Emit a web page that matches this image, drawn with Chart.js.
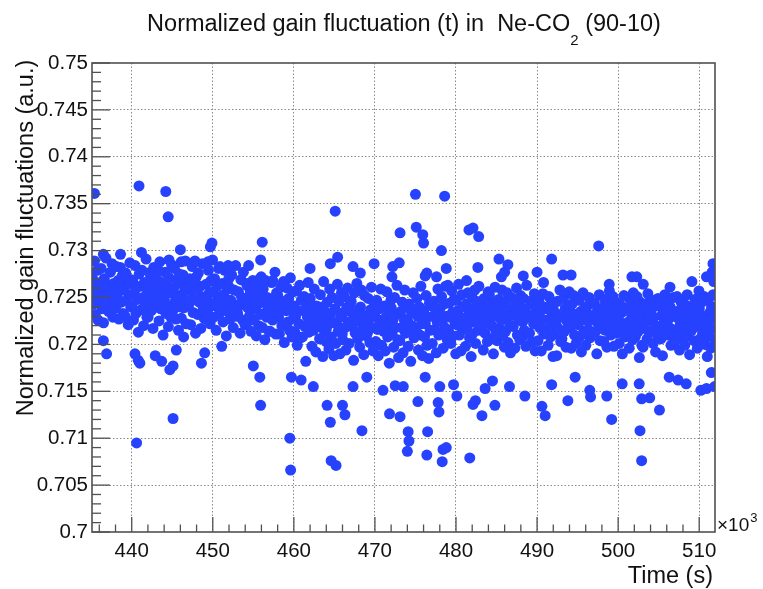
<!DOCTYPE html>
<html>
<head>
<meta charset="utf-8">
<script src="https://cdn.jsdelivr.net/npm/chart.js@4/dist/chart.umd.min.js"></script>
<style>
html,body{margin:0;padding:0;background:#fff;}
canvas{display:block;}
</style>
</head>
<body>
<canvas id="c" width="763" height="589"></canvas>
<script>
// ---- texts ----
const titleMain = 'Normalized gain fluctuation (t) in  Ne-CO';
const titleSub = '2';
const titleEnd = ' (90-10)';
const xTitle = 'Time (s)';
const yTitle = 'Normalized gain fluctuations (a.u.)';
const xExpBase = '\u00d710';
const xExpPow = '3';

// ---- axis ranges (x in units of 10^3 s) ----
const xRange = [435.1, 511.95];
const yRange = [0.70, 0.75];

// ---- data: time (10^3 s), main band ----
const times = [
435.15,435.24,435.32,435.41,435.49,435.58,435.66,435.75,435.83,435.92,
436.02,436.12,436.22,436.32,436.42,436.52,436.62,436.72,436.82,436.92,
437.07,437.17,437.27,437.37,437.47,437.57,437.67,437.77,437.87,437.97,
438.02,438.12,438.22,438.32,438.42,438.52,438.62,438.72,438.82,438.92,
439.07,439.17,439.27,439.37,439.47,439.57,439.67,439.77,439.87,439.97,
440.02,440.12,440.22,440.32,440.42,440.52,440.62,440.72,440.82,440.92,
441.07,441.17,441.27,441.37,441.47,441.57,441.67,441.77,441.87,441.97,
442.02,442.12,442.22,442.32,442.42,442.52,442.62,442.72,442.82,442.92,
443.07,443.17,443.27,443.37,443.47,443.57,443.67,443.77,443.87,443.97,
444.02,444.12,444.22,444.32,444.42,444.52,444.62,444.72,444.82,444.92,
445.07,445.17,445.27,445.37,445.47,445.57,445.67,445.77,445.87,445.97,
446.02,446.12,446.22,446.32,446.42,446.52,446.62,446.72,446.82,446.92,
447.07,447.17,447.27,447.37,447.47,447.57,447.67,447.77,447.87,447.97,
448.02,448.12,448.22,448.32,448.42,448.52,448.62,448.72,448.82,448.92,
449.07,449.17,449.27,449.37,449.47,449.57,449.67,449.77,449.87,449.97,
450.02,450.12,450.22,450.32,450.42,450.52,450.62,450.72,450.82,450.92,
451.07,451.17,451.27,451.37,451.47,451.57,451.67,451.77,451.87,451.97,
452.02,452.12,452.22,452.32,452.42,452.52,452.62,452.72,452.82,452.92,
453.07,453.17,453.27,453.37,453.47,453.57,453.67,453.77,453.87,453.97,
454.02,454.12,454.22,454.32,454.42,454.52,454.62,454.72,454.82,454.92,
455.07,455.17,455.27,455.37,455.47,455.57,455.67,455.77,455.87,455.97,
456.02,456.12,456.22,456.32,456.42,456.52,456.62,456.72,456.82,456.92,
457.07,457.17,457.27,457.37,457.47,457.57,457.67,457.77,457.87,457.97,
458.02,458.12,458.22,458.32,458.42,458.52,458.62,458.72,458.82,458.92,
459.07,459.17,459.27,459.37,459.47,459.57,459.67,459.77,459.87,459.97,
460.02,460.12,460.22,460.32,460.42,460.52,460.62,460.72,460.82,460.92,
461.07,461.17,461.27,461.37,461.47,461.57,461.67,461.77,461.87,461.97,
462.02,462.12,462.22,462.32,462.42,462.52,462.62,462.72,462.82,462.92,
463.07,463.17,463.27,463.37,463.47,463.57,463.67,463.77,463.87,463.97,
464.02,464.12,464.22,464.32,464.42,464.52,464.62,464.72,464.82,464.92,
465.07,465.17,465.27,465.37,465.47,465.57,465.67,465.77,465.87,465.97,
466.02,466.12,466.22,466.32,466.42,466.52,466.62,466.72,466.82,466.92,
467.07,467.17,467.27,467.37,467.47,467.57,467.67,467.77,467.87,467.97,
468.02,468.12,468.22,468.32,468.42,468.52,468.62,468.72,468.82,468.92,
469.07,469.17,469.27,469.37,469.47,469.57,469.67,469.77,469.87,469.97,
470.02,470.12,470.22,470.32,470.42,470.52,470.62,470.72,470.82,470.92,
471.07,471.17,471.27,471.37,471.47,471.57,471.67,471.77,471.87,471.97,
472.02,472.12,472.22,472.32,472.42,472.52,472.62,472.72,472.82,472.92,
473.07,473.17,473.27,473.37,473.47,473.57,473.67,473.77,473.87,473.97,
474.02,474.12,474.22,474.32,474.42,474.52,474.62,474.72,474.82,474.92,
475.07,475.17,475.27,475.37,475.47,475.57,475.67,475.77,475.87,475.97,
476.02,476.12,476.22,476.32,476.42,476.52,476.62,476.72,476.82,476.92,
477.07,477.17,477.27,477.37,477.47,477.57,477.67,477.77,477.87,477.97,
478.02,478.12,478.22,478.32,478.42,478.52,478.62,478.72,478.82,478.92,
479.07,479.17,479.27,479.37,479.47,479.57,479.67,479.77,479.87,479.97,
480.02,480.12,480.22,480.32,480.42,480.52,480.62,480.72,480.82,480.92,
481.07,481.17,481.27,481.37,481.47,481.57,481.67,481.77,481.87,481.97,
482.02,482.12,482.22,482.32,482.42,482.52,482.62,482.72,482.82,482.92,
483.07,483.17,483.27,483.37,483.47,483.57,483.67,483.77,483.87,483.97,
484.02,484.12,484.22,484.32,484.42,484.52,484.62,484.72,484.82,484.92,
485.07,485.17,485.27,485.37,485.47,485.57,485.67,485.77,485.87,485.97,
486.02,486.12,486.22,486.32,486.42,486.52,486.62,486.72,486.82,486.92,
487.07,487.17,487.27,487.37,487.47,487.57,487.67,487.77,487.87,487.97,
488.02,488.12,488.22,488.32,488.42,488.52,488.62,488.72,488.82,488.92,
489.07,489.17,489.27,489.37,489.47,489.57,489.67,489.77,489.87,489.97,
490.02,490.12,490.22,490.32,490.42,490.52,490.62,490.72,490.82,490.92,
491.07,491.17,491.27,491.37,491.47,491.57,491.67,491.77,491.87,491.97,
492.02,492.12,492.22,492.32,492.42,492.52,492.62,492.72,492.82,492.92,
493.07,493.17,493.27,493.37,493.47,493.57,493.67,493.77,493.87,493.97,
494.02,494.12,494.22,494.32,494.42,494.52,494.62,494.72,494.82,494.92,
495.07,495.17,495.27,495.37,495.47,495.57,495.67,495.77,495.87,495.97,
496.02,496.12,496.22,496.32,496.42,496.52,496.62,496.72,496.82,496.92,
497.07,497.17,497.27,497.37,497.47,497.57,497.67,497.77,497.87,497.97,
498.02,498.12,498.22,498.32,498.42,498.52,498.62,498.72,498.82,498.92,
499.07,499.17,499.27,499.37,499.47,499.57,499.67,499.77,499.87,499.97,
500.02,500.12,500.22,500.32,500.42,500.52,500.62,500.72,500.82,500.92,
501.07,501.17,501.27,501.37,501.47,501.57,501.67,501.77,501.87,501.97,
502.02,502.12,502.22,502.32,502.42,502.52,502.62,502.72,502.82,502.92,
503.07,503.17,503.27,503.37,503.47,503.57,503.67,503.77,503.87,503.97,
504.02,504.12,504.22,504.32,504.42,504.52,504.62,504.72,504.82,504.92,
505.07,505.17,505.27,505.37,505.47,505.57,505.67,505.77,505.87,505.97,
506.02,506.12,506.22,506.32,506.42,506.52,506.62,506.72,506.82,506.92,
507.07,507.17,507.27,507.37,507.47,507.57,507.67,507.77,507.87,507.97,
508.02,508.12,508.22,508.32,508.42,508.52,508.62,508.72,508.82,508.92,
509.07,509.17,509.27,509.37,509.47,509.57,509.67,509.77,509.87,509.97,
510.02,510.12,510.22,510.32,510.42,510.52,510.62,510.72,510.82,510.92,
511.02,511.12,511.22,511.32,511.42,511.52,511.62,511.72,511.82,511.92
];

// ---- data: normalized gain, main band ----
const gains = [
0.7271,0.7243,0.7258,0.7289,0.7232,0.7262,0.7249,0.7279,0.7226,0.7254,
0.7247,0.7266,0.7281,0.7238,0.7259,0.7223,0.7270,0.7252,0.7292,0.7241,
0.7262,0.7235,0.7255,0.7277,0.7248,0.7286,0.7229,0.7265,0.7244,0.7258,
0.7239,0.7283,0.7251,0.7268,0.7227,0.7260,0.7296,0.7245,0.7273,0.7233,
0.7258,0.7230,0.7276,0.7247,0.7264,0.7221,0.7252,0.7287,0.7240,0.7269,
0.7241,0.7268,0.7226,0.7255,0.7284,0.7233,0.7261,0.7248,0.7213,0.7275,
0.7262,0.7237,0.7279,0.7250,0.7220,0.7266,0.7243,0.7291,0.7229,0.7256,
0.7229,0.7258,0.7245,0.7273,0.7236,0.7264,0.7217,0.7282,0.7251,0.7240,
0.7270,0.7244,0.7259,0.7225,0.7288,0.7238,0.7253,0.7266,0.7210,0.7247,
0.7248,0.7277,0.7233,0.7262,0.7241,0.7219,0.7271,0.7255,0.7229,0.7285,
0.7236,0.7260,0.7281,0.7246,0.7227,0.7268,0.7252,0.7215,0.7275,0.7240,
0.7265,0.7228,0.7251,0.7274,0.7239,0.7257,0.7289,0.7222,0.7246,0.7262,
0.7243,0.7270,0.7221,0.7256,0.7283,0.7234,0.7263,0.7248,0.7212,0.7272,
0.7259,0.7232,0.7276,0.7245,0.7262,0.7217,0.7251,0.7286,0.7238,0.7228,
0.7227,0.7264,0.7248,0.7237,0.7279,0.7255,0.7222,0.7268,0.7243,0.7290,
0.7256,0.7229,0.7270,0.7241,0.7215,0.7262,0.7248,0.7281,0.7233,0.7251,
0.7238,0.7265,0.7224,0.7253,0.7279,0.7244,0.7209,0.7259,0.7235,0.7270,
0.7261,0.7227,0.7247,0.7274,0.7236,0.7218,0.7258,0.7242,0.7284,0.7230,
0.7233,0.7256,0.7241,0.7212,0.7269,0.7250,0.7226,0.7277,0.7245,0.7221,
0.7249,0.7221,0.7263,0.7239,0.7284,0.7230,0.7257,0.7214,0.7247,0.7268,
0.7226,0.7251,0.7238,0.7209,0.7264,0.7243,0.7220,0.7256,0.7232,0.7272,
0.7245,0.7218,0.7259,0.7233,0.7205,0.7268,0.7229,0.7250,0.7240,0.7214,
0.7214,0.7240,0.7266,0.7226,0.7249,0.7235,0.7277,0.7211,0.7255,0.7231,
0.7252,0.7229,0.7211,0.7244,0.7261,0.7220,0.7237,0.7267,0.7202,0.7246,
0.7236,0.7260,0.7224,0.7249,0.7215,0.7271,0.7239,0.7208,0.7256,0.7228,
0.7241,0.7213,0.7230,0.7257,0.7199,0.7236,0.7222,0.7263,0.7207,0.7247,
0.7208,0.7236,0.7251,0.7219,0.7182,0.7244,0.7229,0.7266,0.7213,0.7234,
0.7249,0.7224,0.7198,0.7238,0.7215,0.7259,0.7226,0.7192,0.7241,0.7219,
0.7230,0.7206,0.7253,0.7221,0.7240,0.7187,0.7267,0.7214,0.7235,0.7203,
0.7217,0.7245,0.7226,0.7195,0.7259,0.7232,0.7208,0.7250,0.7223,0.7188,
0.7238,0.7201,0.7222,0.7264,0.7214,0.7246,0.7190,0.7229,0.7255,0.7211,
0.7205,0.7234,0.7251,0.7218,0.7194,0.7239,0.7260,0.7224,0.7201,0.7243,
0.7246,0.7219,0.7233,0.7183,0.7255,0.7212,0.7228,0.7265,0.7206,0.7237,
0.7225,0.7197,0.7240,0.7258,0.7216,0.7231,0.7189,0.7252,0.7221,0.7209,
0.7212,0.7249,0.7227,0.7202,0.7237,0.7261,0.7218,0.7193,0.7245,0.7230,
0.7230,0.7203,0.7247,0.7216,0.7188,0.7238,0.7222,0.7259,0.7199,0.7226,
0.7214,0.7241,0.7193,0.7229,0.7256,0.7208,0.7235,0.7180,0.7220,0.7247,
0.7239,0.7211,0.7226,0.7197,0.7250,0.7218,0.7232,0.7263,0.7205,0.7186,
0.7204,0.7235,0.7218,0.7245,0.7191,0.7227,0.7258,0.7212,0.7240,0.7223,
0.7226,0.7198,0.7243,0.7214,0.7182,0.7234,0.7220,0.7255,0.7207,0.7237,
0.7217,0.7249,0.7230,0.7194,0.7240,0.7210,0.7262,0.7222,0.7188,0.7232,
0.7236,0.7208,0.7222,0.7252,0.7199,0.7229,0.7185,0.7244,0.7215,0.7241,
0.7201,0.7230,0.7246,0.7216,0.7238,0.7191,0.7224,0.7259,0.7210,0.7227,
0.7238,0.7212,0.7251,0.7225,0.7196,0.7243,0.7218,0.7262,0.7230,0.7205,
0.7215,0.7244,0.7229,0.7201,0.7257,0.7234,0.7209,0.7248,0.7222,0.7190,
0.7247,0.7221,0.7236,0.7264,0.7210,0.7229,0.7193,0.7253,0.7240,0.7216,
0.7226,0.7198,0.7243,0.7218,0.7255,0.7232,0.7207,0.7238,0.7187,0.7250,
0.7211,0.7237,0.7224,0.7258,0.7201,0.7246,0.7227,0.7215,0.7262,0.7233,
0.7242,0.7219,0.7232,0.7194,0.7249,0.7212,0.7239,0.7225,0.7203,0.7256,
0.7228,0.7253,0.7206,0.7235,0.7220,0.7244,0.7190,0.7230,0.7261,0.7214,
0.7204,0.7233,0.7248,0.7217,0.7239,0.7226,0.7258,0.7209,0.7236,0.7197,
0.7245,0.7214,0.7229,0.7255,0.7202,0.7236,0.7221,0.7191,0.7250,0.7231,
0.7219,0.7240,0.7196,0.7231,0.7260,0.7210,0.7244,0.7227,0.7205,0.7252,
0.7235,0.7207,0.7224,0.7249,0.7215,0.7238,0.7198,0.7263,0.7229,0.7212,
0.7212,0.7246,0.7231,0.7203,0.7243,0.7222,0.7254,0.7193,0.7237,0.7226,
0.7230,0.7204,0.7246,0.7218,0.7236,0.7193,0.7227,0.7254,0.7211,0.7240,
0.7215,0.7238,0.7226,0.7199,0.7251,0.7221,0.7208,0.7244,0.7232,0.7187,
0.7242,0.7211,0.7234,0.7222,0.7188,0.7246,0.7217,0.7230,0.7258,0.7203,
0.7206,0.7229,0.7249,0.7214,0.7238,0.7197,0.7225,0.7241,0.7219,0.7256,
0.7236,0.7218,0.7196,0.7243,0.7227,0.7252,0.7210,0.7232,0.7201,0.7223,
0.7221,0.7247,0.7208,0.7235,0.7192,0.7229,0.7255,0.7214,0.7239,0.7226,
0.7199,0.7233,0.7241,0.7216,0.7250,0.7207,0.7226,0.7244,0.7212,0.7231,
0.7244,0.7213,0.7228,0.7190,0.7237,0.7221,0.7253,0.7204,0.7233,0.7217,
0.7225,0.7239,0.7203,0.7248,0.7215,0.7232,0.7197,0.7242,0.7220,0.7257,
0.7210,0.7236,0.7227,0.7251,0.7198,0.7218,0.7245,0.7212,0.7234,0.7223,
0.7228,0.7201,0.7243,0.7215,0.7234,0.7190,0.7222,0.7252,0.7208,0.7238,
0.7212,0.7239,0.7224,0.7196,0.7248,0.7218,0.7231,0.7205,0.7255,0.7226,
0.7240,0.7208,0.7229,0.7251,0.7213,0.7236,0.7186,0.7245,0.7221,0.7199,
0.7197,0.7232,0.7217,0.7243,0.7225,0.7206,0.7254,0.7214,0.7237,0.7228,
0.7235,0.7214,0.7247,0.7201,0.7229,0.7220,0.7192,0.7241,0.7210,0.7249,
0.7219,0.7243,0.7206,0.7231,0.7188,0.7237,0.7225,0.7253,0.7213,0.7230,
0.7246,0.7210,0.7227,0.7218,0.7240,0.7199,0.7233,0.7216,0.7250,0.7205,
0.7204,0.7229,0.7251,0.7213,0.7236,0.7194,0.7222,0.7245,0.7208,0.7234,
0.7232,0.7217,0.7199,0.7242,0.7224,0.7253,0.7209,0.7230,0.7189,0.7238,
0.7215,0.7240,0.7226,0.7204,0.7248,0.7219,0.7236,0.7196,0.7231,0.7257,
0.7238,0.7206,0.7221,0.7245,0.7212,0.7230,0.7251,0.7200,0.7227,0.7216,
0.7222,0.7247,0.7209,0.7234,0.7196,0.7240,0.7217,0.7253,0.7228,0.7205
];

// ---- data: isolated points above / below the band ----
const outlierTimes = [
435.4,440.9,444.2,444.5,436.5,441.2,446.0,449.7,449.9,456.1,455.9,465.1,475.0,475.1,475.9,476.0,473.1,465.4,
464.5,469.9,462.0,467.3,468.2,473.0,472.1,472.2,457.4,454.2,455.5,451.9,450.9,444.6,438.6,443.3,442.3,446.1,
447.8,449.4,476.4,478.6,481.6,482.1,482.8,478.2,497.6,485.3,486.4,491.8,482.7,486.0,485.6,488.3,490.0,490.8,
493.2,494.2,501.7,502.3,503.1,498.9,506.4,509.1,511.7,510.9,511.6,511.8,478.8,479.0,481.3,476.2,477.6,
436.5,436.9,440.4,440.8,441.0,442.9,443.7,444.7,445.1,445.5,448.6,449.0,446.4,451.1,445.1,440.6,455.0,455.8,
455.9,459.5,459.6,459.7,460.9,462.4,464.1,464.5,466.0,466.3,464.6,465.2,468.4,467.3,469.0,471.0,471.8,473.1,
475.3,474.1,474.2,474.0,476.4,476.5,478.4,478.8,478.3,481.7,477.8,477.9,482.1,482.4,483.2,484.8,480.1,479.7,
478.0,476.2,483.6,484.5,486.6,488.5,490.6,491.0,491.8,493.8,494.7,496.5,496.6,498.6,499.2,500.5,502.7,502.9,
502.9,503.9,505.1,502.6,506.3,507.4,508.4,510.2,510.9,511.9,511.5,511.0,472.5,473.5
];
const outlierGains = [
0.7361,0.7369,0.7363,0.7336,0.7296,0.7298,0.7301,0.7304,0.7308,0.7309,0.7290,0.7342,0.7360,0.7325,0.7317,0.7308,0.7319,0.7293,
0.7286,0.7286,0.7281,0.7283,0.7276,0.7287,0.7272,0.7283,0.7268,0.7265,0.7268,0.7284,0.7283,0.7290,0.7282,0.7279,0.7277,0.7288,
0.7289,0.7288,0.7276,0.7358,0.7322,0.7324,0.7315,0.7300,0.7305,0.7291,0.7285,0.7291,0.7282,0.7277,0.7272,0.7273,0.7277,0.7266,
0.7274,0.7274,0.7272,0.7272,0.7264,0.7264,0.7261,0.7267,0.7286,0.7272,0.7277,0.7267,0.7281,0.7263,0.7268,0.7273,0.7272,
0.7204,0.7190,0.7190,0.7183,0.7180,0.7188,0.7182,0.7173,0.7177,0.7194,0.7180,0.7191,0.7208,0.7198,0.7121,0.7095,0.7177,0.7165,
0.7135,0.7100,0.7066,0.7165,0.7162,0.7155,0.7135,0.7117,0.7135,0.7125,0.7076,0.7071,0.7108,0.7155,0.7165,0.7151,0.7126,0.7123,
0.7139,0.7107,0.7097,0.7086,0.7082,0.7107,0.7088,0.7090,0.7075,0.7079,0.7138,0.7128,0.7136,0.7140,0.7124,0.7135,0.7145,0.7157,
0.7155,0.7165,0.7153,0.7161,0.7155,0.7145,0.7134,0.7124,0.7157,0.7140,0.7165,0.7151,0.7144,0.7145,0.7120,0.7158,0.7108,0.7076,
0.7142,0.7143,0.7130,0.7158,0.7165,0.7162,0.7158,0.7151,0.7153,0.7155,0.7170,0.7187,0.7156,0.7155
];

const allTimes = times.concat(outlierTimes);
const allGains = gains.concat(outlierGains);
const points = allTimes.map((t, i) => ({ x: t, y: allGains[i] }));

const FONT = '"Liberation Sans", Arial, sans-serif';
const isMajorY = v => Math.abs(v * 200 - Math.round(v * 200)) < 1e-6;
const isMajorX = v => Math.abs(v / 10 - Math.round(v / 10)) < 1e-6;

const rootStyle = {
  id: 'rootStyle',
  beforeDraw(chart) {
    const c = chart.ctx;
    c.save();
    c.fillStyle = '#ffffff';
    c.fillRect(0, 0, chart.width, chart.height);
    c.restore();
  },
  afterDraw(chart) {
    const { ctx, chartArea: a, scales } = chart;
    const xs = scales.x, ys = scales.y;
    ctx.save();
    ctx.strokeStyle = '#505050';
    ctx.lineWidth = 1.3;
    ys.ticks.forEach(t => {
      const p = ys.getPixelForValue(t.value);
      const len = isMajorY(t.value) ? 18 : 9;
      ctx.beginPath(); ctx.moveTo(a.left, p); ctx.lineTo(a.left + len, p); ctx.stroke();
    });
    xs.ticks.forEach(t => {
      const p = xs.getPixelForValue(t.value);
      const len = isMajorX(t.value) ? 15 : 7.5;
      ctx.beginPath(); ctx.moveTo(p, a.bottom); ctx.lineTo(p, a.bottom - len); ctx.stroke();
    });
    ctx.lineWidth = 1.6;
    ctx.strokeRect(a.left, a.top, a.right - a.left, a.bottom - a.top);

    ctx.fillStyle = '#111';
    ctx.textBaseline = 'alphabetic';
    const big = '23.5px ' + FONT, small = '15px ' + FONT;
    ctx.font = big; const w1 = ctx.measureText(titleMain).width; const w3 = ctx.measureText(titleEnd).width;
    ctx.font = small; const w2 = ctx.measureText(titleSub).width;
    let tx = 404 - (w1 + w2 + w3) / 2;
    ctx.textAlign = 'left';
    ctx.font = big; ctx.fillText(titleMain, tx, 31); tx += w1;
    ctx.font = small; ctx.fillText(titleSub, tx, 45); tx += w2;
    ctx.font = big; ctx.fillText(titleEnd, tx, 31);

    ctx.textAlign = 'right';
    ctx.font = big; ctx.fillText(xTitle, 713, 583);
    ctx.textAlign = 'left';
    ctx.font = '19px ' + FONT; ctx.fillText(xExpBase, 717, 531);
    const we = ctx.measureText(xExpBase).width;
    ctx.font = '13px ' + FONT; ctx.fillText(xExpPow, 717 + we + 1, 522);

    ctx.save();
    ctx.translate(33, 238);
    ctx.rotate(-Math.PI / 2);
    ctx.textAlign = 'center';
    ctx.font = big;
    ctx.fillText(yTitle, 0, 0);
    ctx.restore();
    ctx.restore();
  }
};

new Chart(document.getElementById('c'), {
  type: 'scatter',
  data: {
    datasets: [{
      data: points,
      backgroundColor: 'rgb(38,66,255)',
      borderWidth: 0,
      pointRadius: 5.5,
      pointHoverRadius: 5.5,
      clip: 0
    }]
  },
  options: {
    responsive: false,
    animation: false,
    devicePixelRatio: 1,
    events: [],
    layout: { padding: { top: 63, right: 48, left: 0, bottom: 0 } },
    plugins: { legend: { display: false }, tooltip: { enabled: false }, title: { display: false } },
    scales: {
      x: {
        type: 'linear',
        min: xRange[0], max: xRange[1],
        afterFit(s) { s.height = 57; },
        border: { display: false, dash: [1.5, 2] },
        grid: {
          drawTicks: false,
          lineWidth: 1,
          color: c => (c.tick && isMajorX(c.tick.value)) ? '#8a8a8a' : 'rgba(0,0,0,0)'
        },
        ticks: {
          stepSize: 2,
          includeBounds: false,
          autoSkip: false,
          maxRotation: 0,
          padding: 7,
          color: '#111',
          font: { family: FONT, size: 20.5 },
          callback: v => isMajorX(v) ? String(Math.round(v)) : ''
        }
      },
      y: {
        type: 'linear',
        min: yRange[0], max: yRange[1],
        afterFit(s) { s.width = 92; },
        border: { display: false, dash: [1.5, 2] },
        grid: {
          drawTicks: false,
          lineWidth: 1,
          color: c => (c.tick && isMajorY(c.tick.value) && c.tick.value > 0.7001 && c.tick.value < 0.7499) ? '#8a8a8a' : 'rgba(0,0,0,0)'
        },
        ticks: {
          stepSize: 0.001,
          autoSkip: false,
          padding: 4,
          color: '#111',
          font: { family: FONT, size: 20.5 },
          callback: v => isMajorY(v) ? String(+v.toFixed(3)) : ''
        }
      }
    }
  },
  plugins: [rootStyle]
});
</script>
</body>
</html>
